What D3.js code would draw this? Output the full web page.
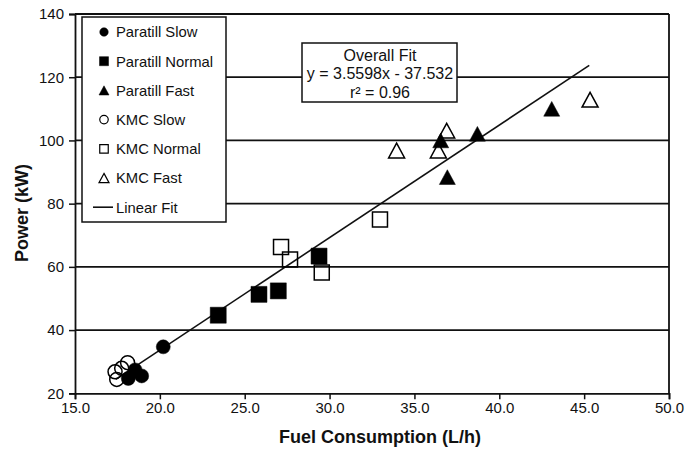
<!DOCTYPE html>
<html>
<head>
<meta charset="utf-8">
<script src="https://cdn.jsdelivr.net/npm/d3@7"></script>
<style>
  body { margin: 0; background: #fff; }
  svg { font-family: "Liberation Sans", Arial, sans-serif; }
</style>
</head>
<body>
<div id="chart-container"></div>
<script>
// values: [fuel L/h, power kW]
const paratillSlow = [[20.2, 34.7], [18.14, 24.7], [18.54, 27.4], [18.93, 25.5]];
const paratillNormal = [[23.44, 44.7], [25.84, 51.3], [26.98, 52.4], [29.38, 63.4]];
const paratillFast = [[36.55, 100.0], [38.71, 102.1], [36.94, 88.4], [43.09, 110.0]];
const kmcSlow = [[17.36, 26.8], [17.46, 24.4], [17.75, 27.9], [18.1, 29.7]];
const kmcNormal = [[27.14, 66.3], [27.67, 62.3], [29.54, 58.2], [32.97, 75.0]];
const kmcFast = [[33.95, 96.8], [36.41, 96.8], [36.9, 103.1], [45.35, 112.9]];

const seriesNames = ["Paratill Slow", "Paratill Normal", "Paratill Fast", "KMC Slow", "KMC Normal", "KMC Fast"];
const fitSlope = 3.5598, fitIntercept = -37.532;
const fitRange = [17.4, 45.3];
const xTicks = [15, 20, 25, 30, 35, 40, 45, 50];
const yTicks = [20, 40, 60, 80, 100, 120, 140];
const fitLabel = ["Overall Fit", "y = 3.5598x - 37.532", "r\u00b2 = 0.96"];

const width = 700, height = 451;
const margin = { top: 14, right: 31, bottom: 57.7, left: 75 };

const svg = d3.select("#chart-container").append("svg")
  .attr("width", width)
  .attr("height", height);

const x = d3.scaleLinear().domain([15, 50]).range([margin.left, width - margin.right]);
const y = d3.scaleLinear().domain([20, 140]).range([height - margin.bottom, margin.top]);

// shapes sized by width (bbox centred)
const shapes = {
  circle: { draw(ctx, s) { const r = s / 2; ctx.moveTo(r, 0); ctx.arc(0, 0, r, 0, 2 * Math.PI); } },
  square: { draw(ctx, s) { const h = s / 2; ctx.rect(-h, -h, s, s); } },
  triangle: { draw(ctx, s) { const h = s * 0.92; ctx.moveTo(0, -h / 2); ctx.lineTo(s / 2, h / 2); ctx.lineTo(-s / 2, h / 2); ctx.closePath(); } }
};

const series = [
  { name: seriesNames[3], data: kmcSlow, shape: "circle", filled: false, size: 14, lsize: 8.5 },
  { name: seriesNames[4], data: kmcNormal, shape: "square", filled: false, size: 15, lsize: 8.5 },
  { name: seriesNames[5], data: kmcFast, shape: "triangle", filled: false, size: 16, lsize: 10 },
  { name: seriesNames[0], data: paratillSlow, shape: "circle", filled: true, size: 14, lsize: 8.5 },
  { name: seriesNames[1], data: paratillNormal, shape: "square", filled: true, size: 16, lsize: 9 },
  { name: seriesNames[2], data: paratillFast, shape: "triangle", filled: true, size: 16, lsize: 10 }
];

// gridlines
svg.append("g")
  .selectAll("line")
  .data(yTicks.slice(1))
  .enter().append("line")
  .attr("x1", x(15)).attr("x2", x(50))
  .attr("y1", d => y(d)).attr("y2", d => y(d))
  .attr("stroke", "#111")
  .attr("stroke-width", 1.8);

// right border
svg.append("line")
  .attr("x1", x(50)).attr("x2", x(50))
  .attr("y1", y(140)).attr("y2", y(20))
  .attr("stroke", "#111").attr("stroke-width", 1.8);

// axes
const xAxis = svg.append("g")
  .attr("transform", "translate(0," + y(20) + ")")
  .call(d3.axisBottom(x).tickValues(xTicks).tickFormat(d3.format(".1f")).tickSize(6).tickPadding(3));
const yAxis = svg.append("g")
  .attr("transform", "translate(" + x(15) + ",0)")
  .call(d3.axisLeft(y).tickValues(yTicks).tickSize(6).tickPadding(5));
[xAxis, yAxis].forEach(a => {
  a.select(".domain").attr("stroke", "#111").attr("stroke-width", 1.8);
  a.selectAll(".tick line").attr("stroke", "#111").attr("stroke-width", 1.5);
  a.selectAll(".tick text").attr("fill", "#111").style("font-size", "15px")
    .style("font-family", "'Liberation Sans', Arial, sans-serif");
});

// axis titles
svg.append("text")
  .attr("x", 380).attr("y", 443)
  .attr("text-anchor", "middle")
  .style("font-size", "18px").style("font-weight", "bold")
  .attr("fill", "#111")
  .text("Fuel Consumption (L/h)");
svg.append("text")
  .attr("transform", "translate(28,213) rotate(-90)")
  .attr("text-anchor", "middle")
  .style("font-size", "18px").style("font-weight", "bold")
  .attr("fill", "#111")
  .text("Power (kW)");

// fit line
svg.append("line")
  .attr("x1", x(fitRange[0])).attr("y1", y(fitSlope * fitRange[0] + fitIntercept))
  .attr("x2", x(fitRange[1])).attr("y2", y(fitSlope * fitRange[1] + fitIntercept))
  .attr("stroke", "#111").attr("stroke-width", 1.6);

// points
series.forEach(s => {
  svg.append("g")
    .selectAll("path")
    .data(s.data)
    .enter().append("path")
    .attr("transform", d => "translate(" + x(d[0]) + "," + y(d[1]) + ")")
    .attr("d", d3.symbol().type(shapes[s.shape]).size(s.size))
    .attr("fill", s.filled ? "#000" : "none")
    .attr("stroke", "#000")
    .attr("stroke-width", s.filled ? 0.5 : 1.5);
});

// legend
const legend = svg.append("g").attr("transform", "translate(82,17)");
legend.append("rect")
  .attr("width", 144).attr("height", 205)
  .attr("fill", "#fff").attr("stroke", "#111").attr("stroke-width", 1.5);
const legendOrder = [3, 4, 5, 0, 1, 2];
legendOrder.forEach((idx, i) => {
  const s = series[idx];
  const row = legend.append("g").attr("transform", "translate(22," + (15 + i * 29.2) + ")");
  row.append("path")
    .attr("d", d3.symbol().type(shapes[s.shape]).size(s.lsize))
    .attr("fill", s.filled ? "#000" : "none")
    .attr("stroke", "#000")
    .attr("stroke-width", s.filled ? 0.5 : 1.2);
  row.append("text")
    .attr("x", 12).attr("dy", "0.36em")
    .style("font-size", "14.8px")
    .attr("fill", "#111")
    .text(s.name);
});
const fitRow = legend.append("g").attr("transform", "translate(22," + (15 + 6 * 29.2) + ")");
fitRow.append("line").attr("x1", -11).attr("x2", 9).attr("stroke", "#111").attr("stroke-width", 1.6);
fitRow.append("text")
  .attr("x", 12).attr("dy", "0.36em")
  .style("font-size", "14.8px").attr("fill", "#111")
  .text("Linear Fit");

// fit annotation
const note = svg.append("g").attr("transform", "translate(302,43)");
note.append("rect")
  .attr("width", 155).attr("height", 59)
  .attr("fill", "#fff").attr("stroke", "#111").attr("stroke-width", 1.5);
note.selectAll("text")
  .data(fitLabel)
  .enter().append("text")
  .attr("x", 78).attr("y", (d, i) => 12 + i * 18.5)
  .attr("dy", "0.36em")
  .attr("text-anchor", "middle")
  .style("font-size", "16px").attr("fill", "#111")
  .text(d => d);
</script>
</body>
</html>
